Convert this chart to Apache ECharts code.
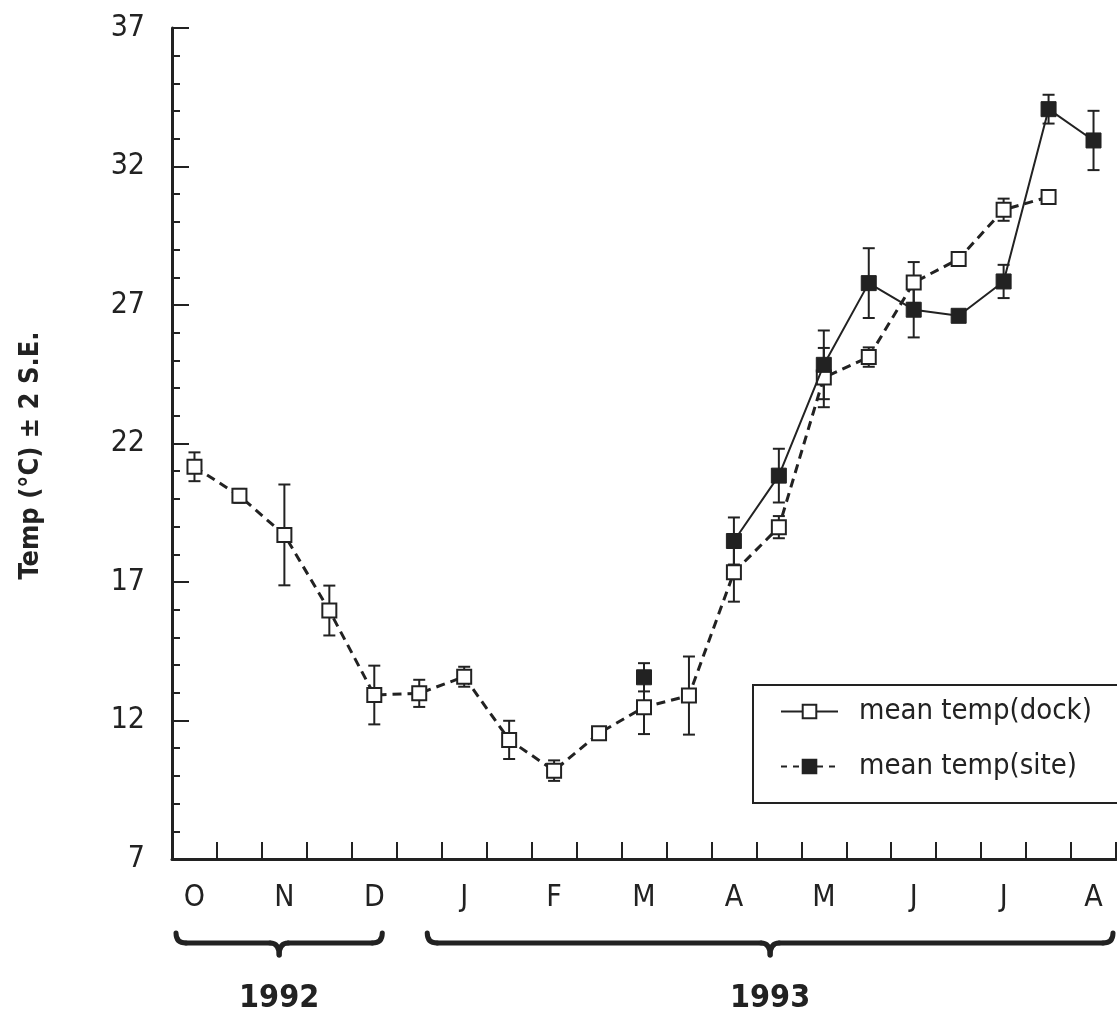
<!DOCTYPE html>
<html>
<head>
<meta charset="utf-8">
<script src="https://cdn.jsdelivr.net/npm/echarts@6/dist/echarts.min.js"></script>
<style>
html,body{margin:0;padding:0;background:#fff;}
#c{width:1117px;height:1014px;}
</style>
</head>
<body>
<div id="c"></div>
<script>
// ---- data ----
const categories = ['Oct-a','Oct-b','Nov-a','Nov-b','Dec-a','Dec-b','Jan-a','Jan-b','Feb-a','Feb-b','Mar-a','Mar-b','Apr-a','Apr-b','May-a','May-b','Jun-a','Jun-b','Jul-a','Jul-b','Aug-a'];
const tickLabels = ['O','','N','','D','','J','','F','','M','','A','','M','','J','','J','','A'];
const dockMean = [21.16,20.11,18.70,15.97,12.92,12.98,13.58,11.30,10.19,11.54,12.48,12.90,17.35,18.98,24.38,25.12,27.81,28.66,30.44,30.90,null];
const dockSE2  = [0.52,0.25,1.82,0.90,1.06,0.49,0.36,0.69,0.37,0,0.97,1.41,1.06,0.40,1.07,0.35,0.74,0,0.40,0,null];
const siteMean = [null,null,null,null,null,null,null,null,null,null,13.56,null,18.48,20.84,24.84,27.79,26.83,26.61,27.85,34.07,32.94];
const siteSE2  = [null,null,null,null,null,null,null,null,null,null,0.51,null,0.85,0.97,1.24,1.26,1.00,0,0.60,0.52,1.07];
const yearLabels = ['1992','1993'];
const yearFirstIdx = [0,5];
const yearLastIdx = [4,20];

const INK = '#222';
const FONT = "'Liberation Sans Narrow','DejaVu Sans Condensed','Roboto',sans-serif";

function errData(mean, se){
  const out = [];
  mean.forEach((v,i)=>{ if(v!=null && se[i]) out.push([i, v, se[i]]); });
  return out;
}
function renderErr(params, api){
  const x = api.value(0), y = api.value(1), e = api.value(2);
  const top = api.coord([x, y+e]);
  const bot = api.coord([x, y-e]);
  const cw = 6;
  const st = {stroke: INK, lineWidth: 2};
  return {type:'group', children:[
    {type:'line', shape:{x1:top[0],y1:top[1],x2:bot[0],y2:bot[1]}, style:st},
    {type:'line', shape:{x1:top[0]-cw,y1:top[1],x2:top[0]+cw,y2:top[1]}, style:st},
    {type:'line', shape:{x1:bot[0]-cw,y1:bot[1],x2:bot[0]+cw,y2:bot[1]}, style:st}
  ]};
}

const chart = echarts.init(document.getElementById('c'), null, {renderer:'canvas'});
const option = {
  backgroundColor:'#fff',
  animation:false,
  grid:{left:172, right:1, top:28, bottom:155, containLabel:false},
  xAxis:{
    type:'category', data:categories, boundaryGap:true,
    axisLine:{lineStyle:{color:INK, width:3}},
    axisTick:{show:true, inside:true, length:17, interval:0, lineStyle:{color:INK, width:2}},
    axisLabel:{interval:0, margin:24, fontSize:30, color:INK, fontFamily:FONT,
      formatter:(v,i)=>tickLabels[i]},
    splitLine:{show:false}
  },
  yAxis:{
    type:'value', min:7, max:37, interval:5,
    name:'Temp (°C) ± 2 S.E.', nameLocation:'middle', nameGap:128, nameRotate:90,
    nameTextStyle:{fontSize:27, fontWeight:'bold', color:INK, fontFamily:FONT, padding:[0,24,0,0]},
    axisLine:{show:true, lineStyle:{color:INK, width:3}},
    axisTick:{show:true, inside:true, length:17, lineStyle:{color:INK, width:2}},
    minorTick:{show:true, splitNumber:5, length:8, lineStyle:{color:INK, width:2}},
    axisLabel:{margin:27, fontSize:30, color:INK, fontFamily:FONT},
    splitLine:{show:false}
  },
  legend:{
    orient:'vertical', left:753, top:685,
    data:[
      {name:'mean temp(dock)', lineStyle:{type:'solid', width:2, color:INK}},
      {name:'mean temp(site)', lineStyle:{type:[6,6], width:2, color:INK}}
    ],
    itemWidth:57, itemHeight:17, itemGap:26,
    padding:[12,60,22,27],
    borderColor:INK, borderWidth:2,
    textStyle:{fontSize:29, color:INK, fontFamily:FONT, padding:[0,0,0,16]}
  },
  series:[
    {type:'custom', name:'dockErr', renderItem:renderErr, data:errData(dockMean,dockSE2), encode:{x:0,y:1}, z:2, silent:true},
    {type:'custom', name:'siteErr', renderItem:renderErr, data:errData(siteMean,siteSE2), encode:{x:0,y:1}, z:2, silent:true},
    {type:'line', name:'mean temp(dock)', data:dockMean, z:3,
      symbol:'rect', symbolSize:14, showAllSymbol:true, connectNulls:false,
      lineStyle:{color:INK, width:3, type:[9,6]},
      itemStyle:{color:'#fff', borderColor:INK, borderWidth:2}},
    {type:'line', name:'mean temp(site)', data:siteMean, z:4,
      symbol:'rect', symbolSize:15, showAllSymbol:true, connectNulls:false,
      lineStyle:{color:INK, width:2, type:'solid'},
      itemStyle:{color:INK, borderColor:INK, borderWidth:1}}
  ]
};
chart.setOption(option);

// year braces beneath the axis, positioned from the category scale
function braceParts(x1, x2, y){
  const xm = (x1+x2)/2, c = 10, t = 12;
  const st = {stroke:INK, lineWidth:5, fill:'none', lineCap:'round'};
  return [
    {type:'bezierCurve', shape:{x1:x1, y1:y-c, cpx1:x1, cpy1:y, x2:x1+c, y2:y}, style:st},
    {type:'line', shape:{x1:x1+c, y1:y, x2:xm-9, y2:y}, style:st},
    {type:'bezierCurve', shape:{x1:xm-9, y1:y, cpx1:xm, cpy1:y, x2:xm, y2:y+t}, style:st},
    {type:'bezierCurve', shape:{x1:xm, y1:y+t, cpx1:xm, cpy1:y, x2:xm+9, y2:y}, style:st},
    {type:'line', shape:{x1:xm+9, y1:y, x2:x2-c, y2:y}, style:st},
    {type:'bezierCurve', shape:{x1:x2-c, y1:y, cpx1:x2, cpy1:y, x2:x2, y2:y-c}, style:st}
  ];
}
const p0 = chart.convertToPixel({xAxisIndex:0}, 0);
const p1 = chart.convertToPixel({xAxisIndex:0}, 1);
const band = p1 - p0;
const axisLeft = p0 - band/2, axisRight = p0 + band*(categories.length-0.5);
const graphics = [];
yearLabels.forEach((lab,k)=>{
  const xa = k===0 ? axisLeft+4 : chart.convertToPixel({xAxisIndex:0}, yearFirstIdx[k]) + 8;
  const xb = k===yearLabels.length-1 ? axisRight-3 : chart.convertToPixel({xAxisIndex:0}, yearLastIdx[k]) + 8;
  braceParts(xa, xb, 943).forEach(g=>graphics.push(g));
  graphics.push({type:'text', x:(xa+xb)/2, y:999, style:{text:lab, font:"bold 32px "+FONT, fill:INK, textAlign:'center', textVerticalAlign:'middle'}});
});
chart.setOption({graphic:{elements:graphics}});
</script>
</body>
</html>
